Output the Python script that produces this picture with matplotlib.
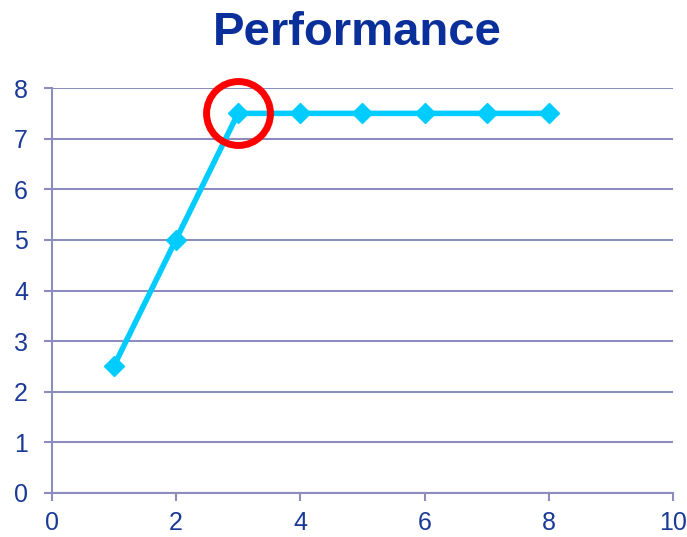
import matplotlib.pyplot as plt

x = [1, 2, 3, 4, 5, 6, 7, 8]
perf = [2.5, 5, 7.5, 7.5, 7.5, 7.5, 7.5, 7.5]
knee_x, knee_y = 3, 7.5

grid_col = '#8c8cbe'
text_col = '#1a3a96'

plt.rcParams['font.family'] = ['Liberation Sans', 'DejaVu Sans']

fig = plt.figure(figsize=(6.87, 5.37), dpi=100)
ax = fig.add_axes([0.075, 0.082, 0.905, 0.754])

ax.plot(x, perf, color='#00ccff', lw=4, marker='D', ms=10, zorder=3)
# mark where performance levels off
ax.plot([knee_x], [knee_y], marker='o', ms=46, mfc='none', mec='#ff0000', mew=5, zorder=4, clip_on=False)

ax.set_xlim(0, 10)
ax.set_ylim(0, 8)
ax.set_xticks(range(0, 11, 2))
ax.set_yticks(range(0, 9))
ax.yaxis.grid(True, color=grid_col, lw=1.5)
ax.set_axisbelow(True)
for s in ['top', 'right']:
    ax.spines[s].set_visible(False)
for s in ['left', 'bottom']:
    ax.spines[s].set_color(grid_col)
    ax.spines[s].set_linewidth(1.5)
ax.tick_params(colors=grid_col, width=1.5, length=6, labelsize=18, labelcolor=text_col)
ax.tick_params(axis='y', pad=11)
ax.tick_params(axis='x', pad=7)

fig.text(0.52, 0.938, 'Performance', ha='center', va='center', fontsize=34,
         fontweight='bold', color='#0a2f9a')

fig.savefig('out.png', dpi=100)
